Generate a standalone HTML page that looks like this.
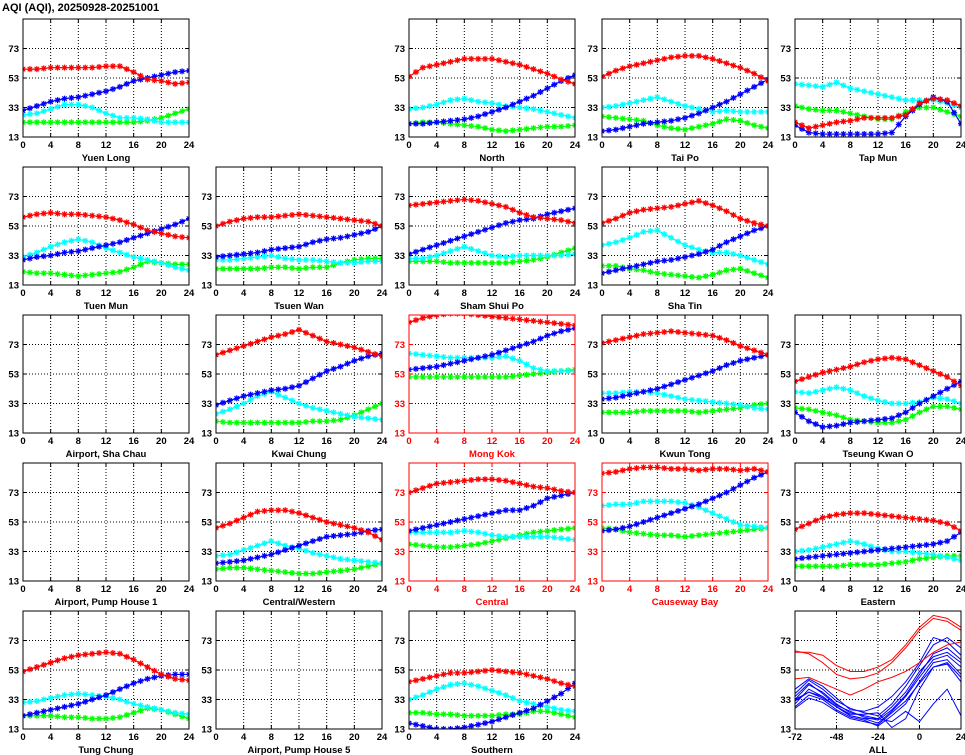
<!DOCTYPE html>
<html><head><meta charset="utf-8"><style>
body{margin:0;background:#fff}
svg{display:block}
text{font-family:"Liberation Sans",sans-serif;font-weight:bold;font-size:9.5px}
</style></head><body>
<svg id="c" width="965" height="755">
<text x="2" y="11" style="font-size:11px">AQI (AQI), 20250928-20251001</text>
</svg>
<script>
const hours=[0,2,4,6,8,10,12,14,16,18,20,22,24];
const yTicks=[13,33,53,73];
const xTicks=[0,4,8,12,16,20,24];
const allXTicks=[-72,-48,-24,0,24];
const allHours=[-72,-64,-56,-48,-40,-32,-24,-16,-8,0,8,16,24];
const seriesColors={red:'#ff0000',blue:'#0000ff',cyan:'#00ffff',green:'#00ff00'};
const yuenLong={red:[59,59,60,60,60,60,61,61,57,52,51,49,50],blue:[31,34,37,39,40,42,44,47,51,53,55,57,58],cyan:[28,29,32,35,35,33,29,26,26,25,23,23,23],green:[23,23,23,23,23,23,23,23,23,24,26,29,32]};
const north={red:[54,60,62,64,66,66,66,64,62,59,56,52,49],blue:[22,22,23,24,25,27,30,33,37,41,46,51,55],cyan:[32,33,35,38,39,37,36,34,33,32,30,28,26],green:[22,23,23,22,21,20,18,17,18,19,20,20,21]};
const taiPo={red:[54,58,61,63,65,67,68,68,66,63,60,56,51],blue:[17,18,20,22,23,24,26,29,33,37,42,47,52],cyan:[33,34,36,38,40,37,34,32,30,31,30,30,30],green:[27,26,25,24,21,19,18,20,22,25,24,21,19]};
const tapMun={red:[23,19,21,23,24,26,26,26,28,36,39,38,34],blue:[21,16,15,15,15,15,15,16,27,35,40,37,22],cyan:[49,48,47,50,46,44,42,40,38,38,38,36,33],green:[34,32,31,31,29,27,25,25,30,33,33,30,27]};
const tuenMun={red:[59,61,62,61,61,60,59,57,54,50,48,46,45],blue:[30,32,33,35,36,38,40,42,45,48,51,54,58],cyan:[32,35,39,42,44,42,38,35,32,30,28,25,23],green:[22,21,21,20,19,20,21,22,25,29,28,27,27]};
const tsuenWan={red:[53,56,58,59,59,60,61,60,59,58,57,56,53],blue:[32,33,34,35,37,38,39,42,44,45,47,49,53],cyan:[30,30,31,32,33,31,30,30,29,28,28,29,29],green:[24,24,24,24,25,25,24,25,25,28,30,31,31]};
const shamShuiPo={red:[67,68,69,70,71,70,68,66,62,59,58,57,55],blue:[34,37,40,43,46,49,52,55,57,58,61,63,65],cyan:[31,31,33,36,39,36,33,32,33,33,33,33,34],green:[29,29,29,28,28,28,28,28,29,30,32,35,38]};
const shaTin={red:[55,58,62,64,65,66,68,70,67,63,58,55,53],blue:[21,23,25,27,29,30,32,34,37,42,46,50,53],cyan:[40,42,45,49,50,45,40,37,35,35,33,30,27],green:[26,26,24,23,21,20,19,18,20,23,24,21,18]};
const kwaiChung={red:[66,69,72,75,78,80,83,79,75,73,71,68,65],blue:[32,35,38,40,42,43,45,50,55,58,62,65,67],cyan:[26,29,33,38,41,37,33,30,28,26,24,23,22],green:[21,20,20,20,20,20,20,21,21,22,25,29,33]};
const mongKok={red:[88,91,93,94,94,93,92,91,90,89,88,87,86],blue:[56,57,58,60,62,64,66,69,72,75,79,82,84],cyan:[67,66,65,64,64,64,64,65,62,57,55,55,55],green:[51,51,51,51,51,51,51,51,52,53,54,55,56]};
const kwunTong={red:[74,76,78,80,81,82,81,80,79,76,72,69,66],blue:[36,37,39,41,43,46,49,52,55,59,62,64,66],cyan:[40,40,41,41,40,38,36,35,34,33,32,30,29],green:[27,27,27,28,28,28,28,27,28,29,30,32,33]};
const tseungKwanO={red:[48,51,54,56,58,61,63,64,63,59,55,51,45],blue:[27,21,17,18,20,21,22,23,27,33,38,43,48],cyan:[41,40,42,44,42,38,35,33,33,34,37,36,33],green:[30,29,27,25,22,21,20,20,22,27,31,31,29]};
const centralWestern={red:[49,52,56,60,61,61,59,56,53,51,49,46,41],blue:[25,26,27,29,31,34,37,40,43,44,45,47,48],cyan:[30,31,34,37,40,37,35,32,30,28,27,26,25],green:[21,22,22,21,20,19,18,18,19,20,21,23,25]};
const central={red:[73,76,79,80,81,82,82,81,79,77,76,74,73],blue:[47,49,51,53,55,57,59,61,61,64,69,71,73],cyan:[46,46,46,46,47,46,44,43,43,43,43,42,41],green:[38,37,36,36,37,38,40,42,44,46,47,48,49]};
const causewayBay={red:[86,87,89,90,90,89,89,88,89,89,88,89,87],blue:[47,48,50,53,56,59,62,65,69,73,78,83,87],cyan:[64,65,65,67,67,67,66,63,59,55,51,50,49],green:[49,48,46,45,44,44,43,44,45,46,47,48,49]};
const eastern={red:[48,52,56,58,59,59,58,57,56,55,54,52,47],blue:[28,29,30,31,32,33,34,35,36,37,38,40,46],cyan:[33,34,36,38,40,38,35,33,33,32,31,29,27],green:[23,23,23,23,24,24,24,25,26,28,29,30,30]};
const tungChung={red:[52,55,58,61,63,64,65,64,60,55,50,47,46],blue:[22,24,26,28,30,33,36,40,44,47,49,50,50],cyan:[31,32,34,36,37,36,35,33,30,28,26,24,23],green:[22,22,22,21,21,20,20,21,24,27,26,23,20]};
const southern={red:[45,47,49,51,51,52,53,52,51,49,47,44,42],blue:[17,15,13,13,14,16,18,21,24,27,32,37,44],cyan:[33,36,40,43,44,42,39,36,32,30,28,26,25],green:[24,24,23,23,22,22,22,23,23,25,25,23,21]};
const allRed=[[65,65,63,56,52,52,55,60,70,82,90,88,82],[66,64,58,50,47,48,51,58,68,80,88,86,80],[47,48,44,40,36,40,45,48,52,58,65,70,72]];
const allBlue=[[33,43,38,30,24,22,20,28,38,52,62,65,58],[30,40,35,28,22,20,17,25,35,48,60,63,55],[37,46,40,32,27,24,22,30,42,56,70,75,68],[28,36,33,26,21,19,15,22,30,45,58,60,50],[40,47,42,34,26,25,28,35,45,58,75,72,63],[32,38,34,28,23,23,24,14,20,40,55,57,45],[35,44,37,29,25,21,19,26,36,50,64,68,60],[27,34,31,25,20,18,16,24,32,44,55,58,48],[33,38,35,28,22,20,20,18,25,18,30,40,22]];
const panels=[
['Yuen Long',0,0,yuenLong,0],['North',0,2,north,0],['Tai Po',0,3,taiPo,0],['Tap Mun',0,4,tapMun,0],
['Tuen Mun',1,0,tuenMun,0],['Tsuen Wan',1,1,tsuenWan,0],['Sham Shui Po',1,2,shamShuiPo,0],['Sha Tin',1,3,shaTin,0],
['Airport, Sha Chau',2,0,null,0],['Kwai Chung',2,1,kwaiChung,0],['Mong Kok',2,2,mongKok,1],['Kwun Tong',2,3,kwunTong,0],['Tseung Kwan O',2,4,tseungKwanO,0],
['Airport, Pump House 1',3,0,null,0],['Central/Western',3,1,centralWestern,0],['Central',3,2,central,1],['Causeway Bay',3,3,causewayBay,1],['Eastern',3,4,eastern,0],
['Tung Chung',4,0,tungChung,0],['Airport, Pump House 5',4,1,null,0],['Southern',4,2,southern,0],['ALL',4,4,'all',0]
];
const NS='http://www.w3.org/2000/svg';
const svg=document.getElementById('c');
function mk(tag,attrs,parent){const e=document.createElementNS(NS,tag);for(const k in attrs)e.setAttribute(k,attrs[k]);(parent||svg).appendChild(e);return e;}
const W=166,H=118;
function slug(s){return s.toLowerCase().replace(/[^a-z0-9]+/g,'-').replace(/-$/,'');}
function star(x,y,parent){const r=3;mk('path',{d:`M${x-r},${y}H${x+r}M${x},${y-r}V${y+r}M${x-2.2},${y-2.2}L${x+2.2},${y+2.2}M${x-2.2},${y+2.2}L${x+2.2},${y-2.2}`},parent);}
panels.forEach(p=>{
  const [name,row,col,data,isRed]=p;
  const L=23+col*193,T=19+row*148;
  const isAll=data==='all';
  const x0=isAll?-72:0,x1=24;
  const xs=v=>L+(v-x0)/(x1-x0)*W;
  const ys=v=>T+H-(v-13)/80*H;
  const fc=isRed?'#ff0000':'#000';
  const g=mk('g',{});
  
  
  const cp=mk('clipPath',{id:'cp'+row+col},g);
  mk('rect',{x:L,y:T,width:W,height:H},cp);
  const xt=isAll?allXTicks:xTicks;
  xt.forEach(t=>{
    const x=xs(t);
    if(t!==x0&&t!==x1){const gl=mk('line',{x1:x,y1:T,x2:x,y2:T+H,stroke:'#000','stroke-width':1,'stroke-dasharray':'1,2'},g);}
    mk('line',{x1:x,y1:T+H,x2:x,y2:T+H-4,stroke:fc},g);
    mk('line',{x1:x,y1:T,x2:x,y2:T+4,stroke:fc},g);
    const tx=mk('text',{x:x,y:T+H+11,'text-anchor':'middle',fill:fc},g);tx.textContent=t;
    
  });
  yTicks.forEach(t=>{
    const y=ys(t);
    if(t!==13){const gl=mk('line',{x1:L,y1:y,x2:L+W,y2:y,stroke:'#000','stroke-width':1,'stroke-dasharray':'1,2'},g);}
    mk('line',{x1:L,y1:y,x2:L+4,y2:y,stroke:fc},g);
    mk('line',{x1:L+W,y1:y,x2:L+W-4,y2:y,stroke:fc},g);
    const ty=mk('text',{x:L-4,y:y+3.5,'text-anchor':'end',fill:fc},g);ty.textContent=t;
    
  });
  const dg=mk('g',{'clip-path':'url(#cp'+row+col+')'},g);
  if(isAll){
    [[allBlue,'blue'],[allRed,'red']].forEach(([set,c])=>set.forEach(arr=>{
      const pl=mk('polyline',{points:arr.map((v,i)=>xs(allHours[i])+','+ys(v)).join(' '),fill:'none',stroke:seriesColors[c],'stroke-width':1},dg);
      
    }));
  } else if(data){
    ['green','cyan','blue','red'].forEach(c=>{
      const arr=data[c];
      const sg=mk('g',{stroke:seriesColors[c],fill:'none','stroke-width':1.2},dg);
      
      
      mk('polyline',{points:arr.map((v,i)=>xs(hours[i])+','+ys(v)).join(' ')},sg);
      arr.forEach((v,i)=>{
        const x=xs(hours[i]),y=ys(v);
        star(x,y,sg);
        if(i<arr.length-1){star((x+xs(hours[i+1]))/2,(y+ys(arr[i+1]))/2,sg);}
      });
    });
  }
  mk('rect',{x:L,y:T,width:W,height:H,fill:'none',stroke:fc,'stroke-width':1},g);
  const tt=mk('text',{x:L+W/2,y:T+H+24,'text-anchor':'middle',fill:fc},g);tt.textContent=name;
  
});
</script>
</body></html>
